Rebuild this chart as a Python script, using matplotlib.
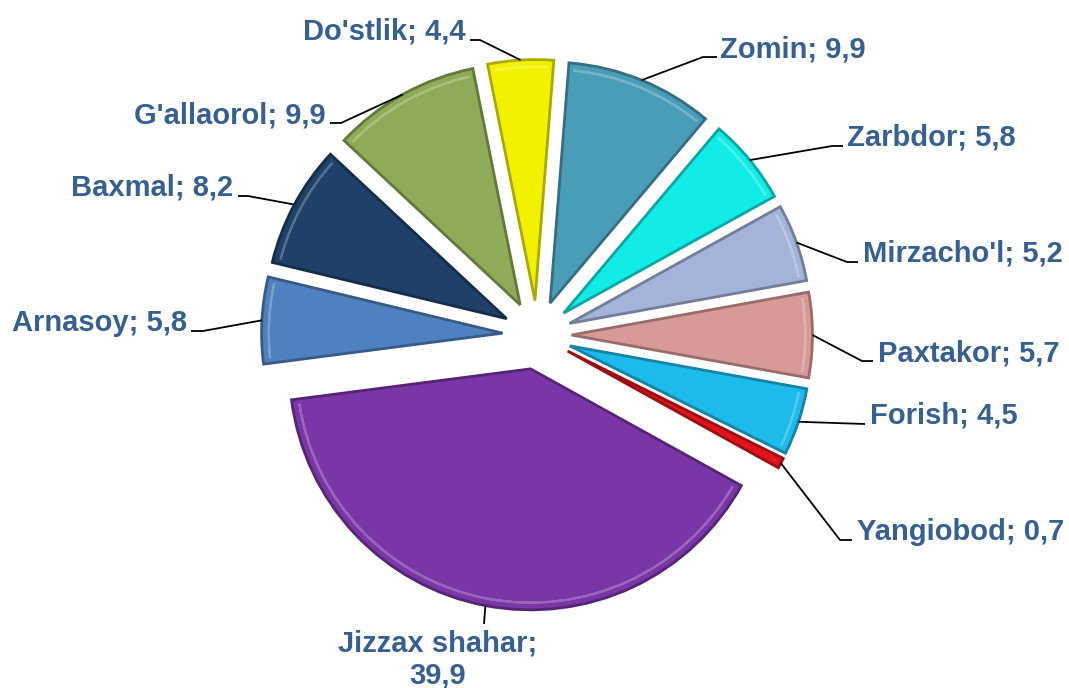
import numpy as np
import matplotlib.pyplot as plt
from matplotlib.colors import to_rgb
from matplotlib.patches import Wedge

# data (share of each district, %), clockwise from the top
districts = ["Zomin", "Zarbdor", "Mirzacho'l", "Paxtakor", "Forish", "Yangiobod",
             "Jizzax shahar", "Arnasoy", "Baxmal", "G'allaorol", "Do'stlik"]
shares = [9.9, 5.8, 5.2, 5.7, 4.5, 0.7, 39.9, 5.8, 8.2, 9.9, 4.4]
colors = ['#4a9db7', '#12ece6', '#a3b3d9', '#d79a98', '#1cbbea', '#e0141a',
          '#7a35a7', '#4f80bf', '#1f4068', '#8fab57', '#f2f200']

# layout, image pixels (x, y from top)
W, H = 1069, 688
CX, CY, R = 537, 335, 241
leader_pts = {
    "Zomin": [(703, 57), (717, 57)],
    "Zarbdor": [(832, 146), (843, 146)],
    "Mirzacho'l": [(847, 262), (858, 262)],
    "Paxtakor": [(862, 361), (873, 361)],
    "Forish": [(865, 424)],
    "Yangiobod": [(840, 540), (852, 540)],
    "Jizzax shahar": [(484, 624)],
    "Arnasoy": [(203, 331), (191, 331)],
    "Baxmal": [(248, 196), (238, 196)],
    "G'allaorol": [(341, 123), (330, 123)],
    "Do'stlik": [(480, 40), (470, 40)],
}
text_at = {
    "Zomin": (720, 57, 'left'),
    "Zarbdor": (847, 146, 'left'),
    "Mirzacho'l": (863, 262, 'left'),
    "Paxtakor": (878, 361, 'left'),
    "Forish": (870, 424, 'left'),
    "Yangiobod": (857, 540, 'left'),
    "Arnasoy": (187, 331, 'right'),
    "Baxmal": (233, 196, 'right'),
    "G'allaorol": (326, 123, 'right'),
    "Do'stlik": (466, 40, 'right'),
}
TXT = '#366092'


def px(x, y):
    return (x - CX) / R, (CY - y) / R


def shade(c, f):
    r, g, b = to_rgb(c)
    if f <= 1:
        return (r * f, g * f, b * f)
    t = f - 1
    return (r + (1 - r) * t, g + (1 - g) * t, b + (1 - b) * t)


def fmt(v):
    return f"{v:.1f}".replace('.', ',')


plt.rcParams['font.family'] = ['Liberation Sans', 'DejaVu Sans']

fig = plt.figure(figsize=(W / 100, H / 100), dpi=100)
ax = fig.add_axes([0, 0, 1, 1])
wedges, _ = ax.pie(shares, colors=colors, explode=[0.143] * len(shares),
                   startangle=85.5, counterclock=False, radius=1,
                   wedgeprops=dict(linewidth=2.0))
for w, c in zip(wedges, colors):
    w.set_edgecolor(shade(c, 0.7))
    # soft bevel highlight along the rim
    ax.add_patch(Wedge(w.center, w.r - 0.03, w.theta1 + 1.2, w.theta2 - 1.2,
                       width=0.0, fill=False, edgecolor=shade(c, 1.3),
                       lw=1.6, alpha=0.8))

ax.set_xlim(-CX / R, (W - CX) / R)
ax.set_ylim((CY - H) / R, CY / R)
ax.set_aspect('auto')
ax.axis('off')

for w, name, v in zip(wedges, districts, shares):
    mid = np.deg2rad((w.theta1 + w.theta2) / 2)
    x0 = w.center[0] + w.r * np.cos(mid)
    y0 = w.center[1] + w.r * np.sin(mid)
    pts = [(x0, y0)] + [px(*p) for p in leader_pts[name]]
    ax.plot([p[0] for p in pts], [p[1] for p in pts], color='black', lw=1.3,
            solid_capstyle='butt')
    if name in text_at:
        tx, ty, ha = text_at[name]
        ax.text(*px(tx, ty), f"{name}; {fmt(v)}", ha=ha, va='baseline',
                fontsize=21, fontweight='bold', color=TXT)
    else:
        ax.text(*px(438, 652), f"{name};", ha='center', va='baseline',
                fontsize=21, fontweight='bold', color=TXT)
        ax.text(*px(438, 684), fmt(v), ha='center', va='baseline',
                fontsize=21, fontweight='bold', color=TXT)

fig.savefig('out.png', dpi=100, facecolor='white')
